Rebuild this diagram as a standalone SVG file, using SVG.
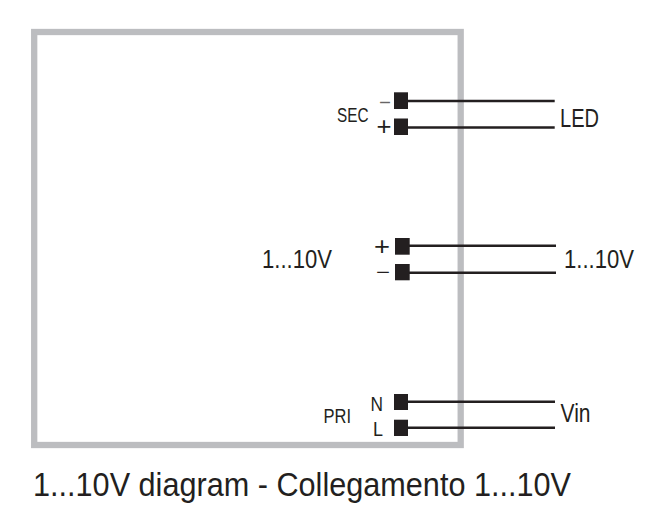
<svg xmlns="http://www.w3.org/2000/svg" width="655" height="519" viewBox="0 0 655 519">
<style>
text{font-family:"Liberation Sans",Arial,sans-serif;fill:#231f20}
.t{font-size:26px}.s{font-size:19.5px}.w{stroke:#231f20;stroke-width:2.4;fill:none}.p{fill:#231f20}
</style>
<rect width="655" height="519" fill="#fff"/>
<g id="box"><rect x="34.2" y="32" width="426.5" height="413" fill="none" stroke="#bcbdc0" stroke-width="6.3"/></g>
<g id="connectors">
<path class="w" d="M402 101H554.7M402 127.5H554.7M402 245.7H556M402 272.7H556M402 401.7H555M402 427.7H555"/>
</g>
<g id="t1"><rect class="p" x="394" y="92.3" width="14" height="16.7"/></g>
<g id="t2"><rect class="p" x="394" y="118.5" width="14" height="16.5"/></g>
<g id="t3"><rect class="p" x="395" y="238" width="14.7" height="16.7"/></g>
<g id="t4"><rect class="p" x="395" y="264" width="14.7" height="16.3"/></g>
<g id="t5"><rect class="p" x="394" y="394" width="14" height="16"/></g>
<g id="t6"><rect class="p" x="394" y="419.7" width="14" height="16.3"/></g>
<g id="labels">
<text class="s" x="337" y="121.7" textLength="31.5" lengthAdjust="spacingAndGlyphs">SEC</text>
<text class="s" x="379" y="108.5" textLength="12" lengthAdjust="spacingAndGlyphs" fill-opacity=".7">−</text>
<text class="t" x="376.5" y="135" textLength="15" lengthAdjust="spacingAndGlyphs">+</text>
<text class="t" x="560" y="126.7" textLength="39" lengthAdjust="spacingAndGlyphs">LED</text>
<text class="t" x="262" y="267.7" textLength="70" lengthAdjust="spacingAndGlyphs">1...10V</text>
<text class="t" x="374" y="255" textLength="16" lengthAdjust="spacingAndGlyphs">+</text>
<text x="376" y="279" font-size="20" textLength="14" lengthAdjust="spacingAndGlyphs">−</text>
<text class="t" x="564" y="267.7" textLength="70" lengthAdjust="spacingAndGlyphs">1...10V</text>
<text class="s" x="370.5" y="411" textLength="12.5" lengthAdjust="spacingAndGlyphs">N</text>
<text class="s" x="373" y="436" textLength="10" lengthAdjust="spacingAndGlyphs">L</text>
<text class="s" x="323.5" y="423.3" textLength="27.5" lengthAdjust="spacingAndGlyphs">PRI</text>
<text class="t" x="560.5" y="422.3" textLength="30" lengthAdjust="spacingAndGlyphs">Vin</text>
<text x="33" y="496" font-size="34" textLength="538" lengthAdjust="spacingAndGlyphs">1...10V diagram - Collegamento 1...10V</text>
</g>
</svg>
